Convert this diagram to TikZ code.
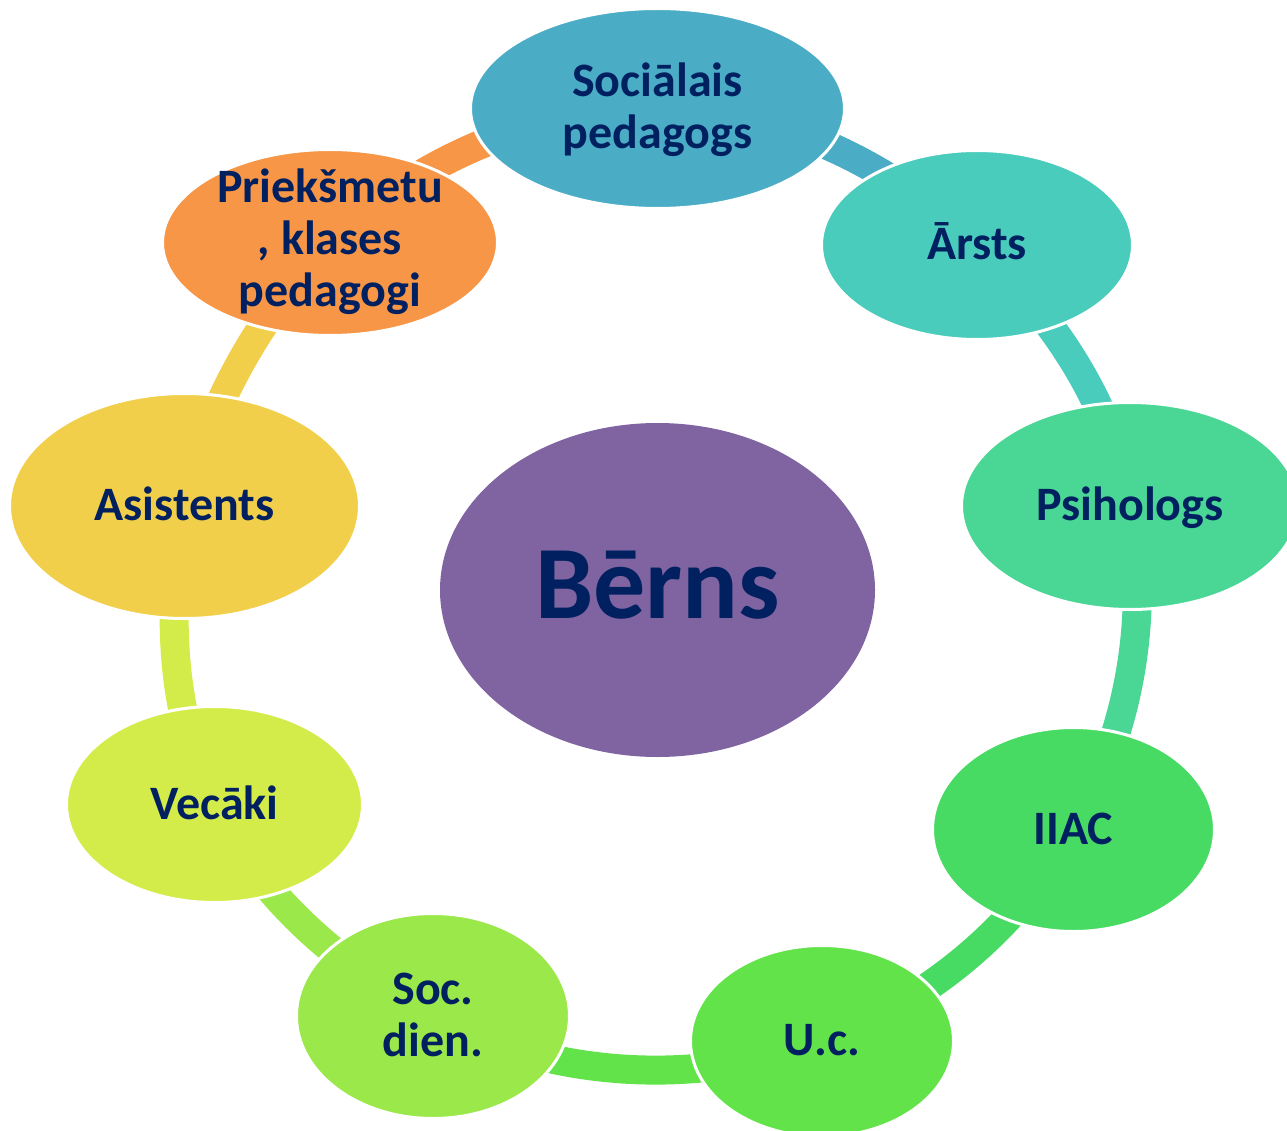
\documentclass[tikz,border=0pt]{standalone}
\usepackage{fontspec}
\setmainfont{Carlito}
\usetikzlibrary{shapes.geometric}
\pgfdeclarelayer{bg}
\pgfsetlayers{bg,main}
\definecolor{txt}{HTML}{002060}
\definecolor{cA}{HTML}{4BACC6}
\definecolor{cB}{HTML}{4ACCBC}
\definecolor{cC}{HTML}{4AD694}
\definecolor{cD}{HTML}{48DB64}
\definecolor{cE}{HTML}{62E34A}
\definecolor{cF}{HTML}{9BE84B}
\definecolor{cG}{HTML}{D4EC4A}
\definecolor{cH}{HTML}{F2CF4A}
\definecolor{cI}{HTML}{F79646}
\definecolor{cZ}{HTML}{8064A2}
\newcommand\topst{\rule{0pt}{44pt}}
\newcommand\botst{\rule[-15pt]{0pt}{15pt}}
\tikzset{
  blob/.style={ellipse, draw=white, line width=3pt, inner sep=0pt, fill=#1},
  lbl/.style={inner sep=0pt, outer sep=0pt, text=txt, align=center,
    font=\fontsize{48}{52}\selectfont\bfseries},
  conn/.style={line width=29pt, draw=#1, line cap=butt, looseness=0.88},
}
\begin{document}
\begin{tikzpicture}[x=1pt,y=1pt]
\clip (0,0) rectangle (1287,-1131);
\useasboundingbox (0,0) rectangle (1287,-1131);
% outer nodes
\node[blob=cA, minimum width=374, minimum height=200] (n1) at (657.5,-108.5) {};
\node[blob=cB, minimum width=311, minimum height=189] (n2) at (977,-245) {};
\node[blob=cC, minimum width=337, minimum height=207] (n3) at (1130,-506) {};
\node[blob=cD, minimum width=282, minimum height=204] (n4) at (1073.5,-829.5) {};
\node[blob=cE, minimum width=263, minimum height=191] (n5) at (822,-1041) {};
\node[blob=cF, minimum width=273, minimum height=205] (n6) at (433,-1016) {};
\node[blob=cG, minimum width=296, minimum height=196] (n7) at (214.5,-804.5) {};
\node[blob=cH, minimum width=350, minimum height=225] (n8) at (184.5,-506) {};
\node[blob=cI, minimum width=335, minimum height=186] (n9) at (330,-242.5) {};
% centre
\node[ellipse, fill=cZ, inner sep=0pt, minimum width=435, minimum height=334] (c) at (657.5,-590) {};
% labels
\node[lbl] (t1) at (n1) {\topst Sociālais\\pedagogs\botst};
\node[lbl] (t2) at (n2) {\topst\smash{Ārsts}\botst};
\node[lbl] (t3) at (n3) {\topst Psihologs\botst};
\node[lbl] (t4) at (n4) {\topst IIAC\botst};
\node[lbl] (t5) at (n5) {\topst U.c.\botst};
\node[lbl] (t6) at (n6) {\topst Soc.\\dien.\botst};
\node[lbl] (t7) at (n7) {\topst Vecāki\botst};
\node[lbl] (t8) at (n8) {\topst Asistents\botst};
\node[lbl] (t9) at ([yshift=2]n9) {\topst Priekšmetu\\, klases\\pedagogi\botst};
\node[inner sep=0pt, text=txt, font=\fontsize{104}{110}\selectfont\bfseries] (tc) at (c) {\rule[-44pt]{0pt}{144pt}\smash{Bērns}};
% connectors
\begin{pgfonlayer}{bg}
\fill[white] (0,0) rectangle (1287,-1131);
\draw[conn=cA] (n1.center) to[out=0, in=137] (n2.center);
\draw[conn=cB] (n2.center) to[out=-43, in=100] (n3.center);
\draw[conn=cC] (n3.center) to[out=-80, in=60] (n4.center);
\draw[conn=cD] (n4.center) to[out=-120, in=20] (n5.center);
\draw[conn=cE] (n5.center) to[out=-160, in=-27.8] (n6.center);
\draw[conn=cF] (n6.center) to[out=152.2, in=-63.9] (n7.center);
\draw[conn=cG] (n7.center) to[out=116.1, in=260] (n8.center);
\draw[conn=cH] (n8.center) to[out=76, in=226] (n9.center);
\draw[conn=cI] (n9.center) to[out=43.2, in=180] (n1.center);
\end{pgfonlayer}
\end{tikzpicture}
\end{document}
